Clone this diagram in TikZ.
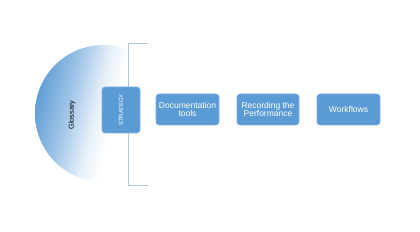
\documentclass[tikz,border=0pt]{standalone}
\usepackage{fontspec}
\setmainfont{Liberation Sans}
\definecolor{boxblue}{HTML}{5B9BD5}
\definecolor{boxedge}{HTML}{7FB0DE}
\definecolor{brk}{HTML}{B4C6DC}
\pgfdeclarehorizontalshading{glossfade}{100bp}{color(0bp)=(boxblue); color(24bp)=(boxblue); color(36bp)=(boxblue!60); color(47bp)=(boxblue!15); color(54bp)=(white); color(100bp)=(white)}
\begin{document}
\begin{tikzpicture}[x=1pt,y=1pt,
  stepbox/.style={draw=boxedge,line width=0.6pt,fill=boxblue,rounded corners=3pt,
    text=white,align=center,font=\fontsize{8.5}{8.5}\selectfont,inner sep=0pt,
    minimum width=63pt,minimum height=31pt}]
\useasboundingbox (0,0) rectangle (420,232);
% disk with gradient fading to white on the right
\begin{scope}
  \clip (103.5,118.5) circle[radius=68.5];
  \shade[shading=glossfade,shading angle=-14] (35,50) rectangle (172,187);
\end{scope}
% bracket
\coordinate (bt) at (148,189);
\coordinate (bb) at (148,47);
\draw[brk,line width=0.6pt] (bt) -- ++(-20,0) coordinate (btl) -- (btl |- bb) -- (bb);
\node[rotate=90,font=\fontsize{7.3}{7.3}\selectfont] (gloss) at (72,117) {Glossary};
\node[stepbox,minimum width=38pt,minimum height=46pt] (strat) at (121,122) {};
\node[rotate=90,text=white,font=\fontsize{6}{6}\selectfont] (stratlbl) at (strat) {STRATEGY};
\node[stepbox] (doc) at (187.5,122.5) {Documentation\\tools};
\node[stepbox,minimum width=62pt] (rec) at (268,122.5) {Recording the\\Performance};
\node[stepbox] (wf) at (348.5,122.5) {Workflows};
\end{tikzpicture}
\end{document}
